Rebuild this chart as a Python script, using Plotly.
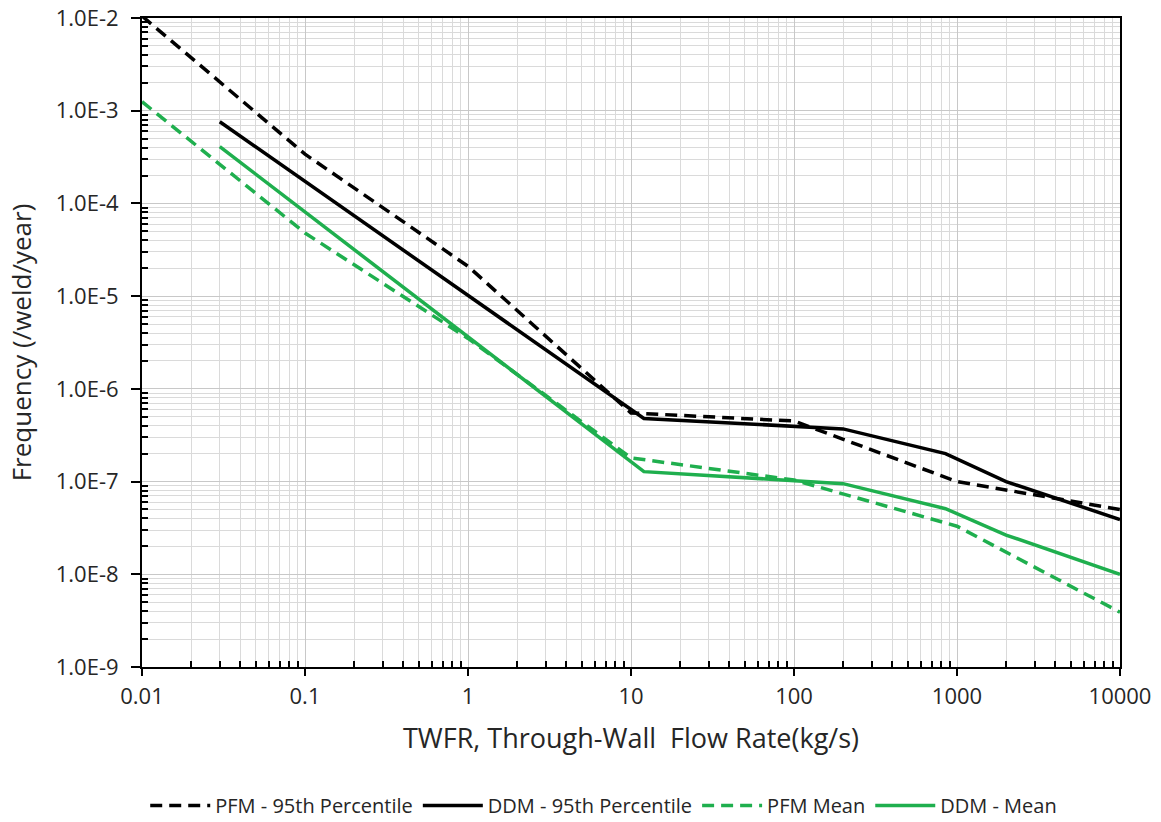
import plotly.graph_objects as go

# ---- data ----
pfm95_x = [0.01, 0.1, 1, 10, 100, 1000, 10000]
pfm95_y = [1.05e-2, 3.4e-4, 2.1e-5, 5.5e-7, 4.5e-7, 1.0e-7, 5.0e-8]

ddm95_x = [0.03, 12, 200, 850, 2000, 10000]
ddm95_y = [7.6e-4, 4.8e-7, 3.7e-7, 2.0e-7, 1.0e-7, 3.9e-8]

pfmmean_x = [0.01, 0.1, 1, 10, 100, 1000, 10000]
pfmmean_y = [1.25e-3, 4.8e-5, 3.5e-6, 1.8e-7, 1.04e-7, 3.3e-8, 3.9e-9]

ddmmean_x = [0.03, 12, 200, 850, 2000, 10000]
ddmmean_y = [4.1e-4, 1.28e-7, 9.5e-8, 5.1e-8, 2.65e-8, 1.0e-8]

x_ticks = [0.01, 0.1, 1, 10, 100, 1000, 10000]
x_ticktext = ["0.01", "0.1", "1", "10", "100", "1000", "10000"]
y_ticks = [1e-9, 1e-8, 1e-7, 1e-6, 1e-5, 1e-4, 1e-3, 1e-2]
y_ticktext = ["1.0E-9", "1.0E-8", "1.0E-7", "1.0E-6", "1.0E-5", "1.0E-4", "1.0E-3", "1.0E-2"]

BLACK = "#000000"
GREEN = "#1FAF4E"
TXT = "#262626"
FONT = "Open Sans"
DASH = "12px,7px"

fig = go.Figure()
fig.add_trace(go.Scatter(x=pfm95_x, y=pfm95_y, mode="lines", name="PFM - 95th Percentile",
                         line=dict(color=BLACK, width=3.5, dash=DASH)))
fig.add_trace(go.Scatter(x=ddm95_x, y=ddm95_y, mode="lines", name="DDM - 95th Percentile",
                         line=dict(color=BLACK, width=3.5)))
fig.add_trace(go.Scatter(x=pfmmean_x, y=pfmmean_y, mode="lines", name="PFM Mean",
                         line=dict(color=GREEN, width=3.5, dash=DASH)))
fig.add_trace(go.Scatter(x=ddmmean_x, y=ddmmean_y, mode="lines", name="DDM - Mean",
                         line=dict(color=GREEN, width=3.5)))

def minor_vals(lo, hi):
    vals = []
    for e in range(lo, hi):
        for m in range(2, 10):
            vals.append(m * 10.0 ** e)
    return vals

grid_major = "#C8C8C8"
grid_minor = "#DADADA"

fig.update_xaxes(
    type="log", range=[-2, 4],
    tickvals=x_ticks, ticktext=x_ticktext,
    ticks="outside", ticklen=7, tickwidth=1.5, tickcolor=BLACK,
    showline=True, linecolor=BLACK, linewidth=2, mirror=True,
    showgrid=True, gridcolor=grid_major, gridwidth=1,
    minor=dict(tickmode="array", tickvals=minor_vals(-2, 4), ticks="inside", ticklen=6,
               tickcolor=BLACK, tickwidth=1.5, showgrid=True, gridcolor=grid_minor, gridwidth=1),
    tickfont=dict(family=FONT, size=22, color=TXT),
    ticklabelstandoff=2,
    title=dict(text="TWFR, Through-Wall  Flow Rate(kg/s)",
               font=dict(family=FONT, size=27, color=TXT), standoff=20),
    zeroline=False,
)
fig.update_yaxes(
    type="log", range=[-9, -2],
    tickvals=y_ticks, ticktext=y_ticktext,
    ticks="outside", ticklen=9, tickwidth=1.5, tickcolor=BLACK,
    showline=True, linecolor=BLACK, linewidth=2, mirror=True,
    showgrid=True, gridcolor=grid_major, gridwidth=1,
    minor=dict(tickmode="array", tickvals=minor_vals(-9, -2), ticks="inside", ticklen=6,
               tickcolor=BLACK, tickwidth=1.5, showgrid=True, gridcolor=grid_minor, gridwidth=1),
    tickfont=dict(family=FONT, size=22, color=TXT),
    ticklabelstandoff=8,
    title=dict(text="Frequency (/weld/year)",
               font=dict(family=FONT, size=26, color=TXT), standoff=17),
    zeroline=False,
)

fig.update_layout(
    width=1161, height=822,
    margin=dict(l=142, r=41, t=18, b=155, autoexpand=False),
    paper_bgcolor="white", plot_bgcolor="white",
    showlegend=True,
    legend=dict(orientation="h", x=0.52, xanchor="center", xref="container",
                y=0.02, yanchor="middle", yref="container",
                font=dict(family=FONT, size=20, color=TXT),
                itemwidth=60, traceorder="normal"),
)

fig.write_html("out.html")
